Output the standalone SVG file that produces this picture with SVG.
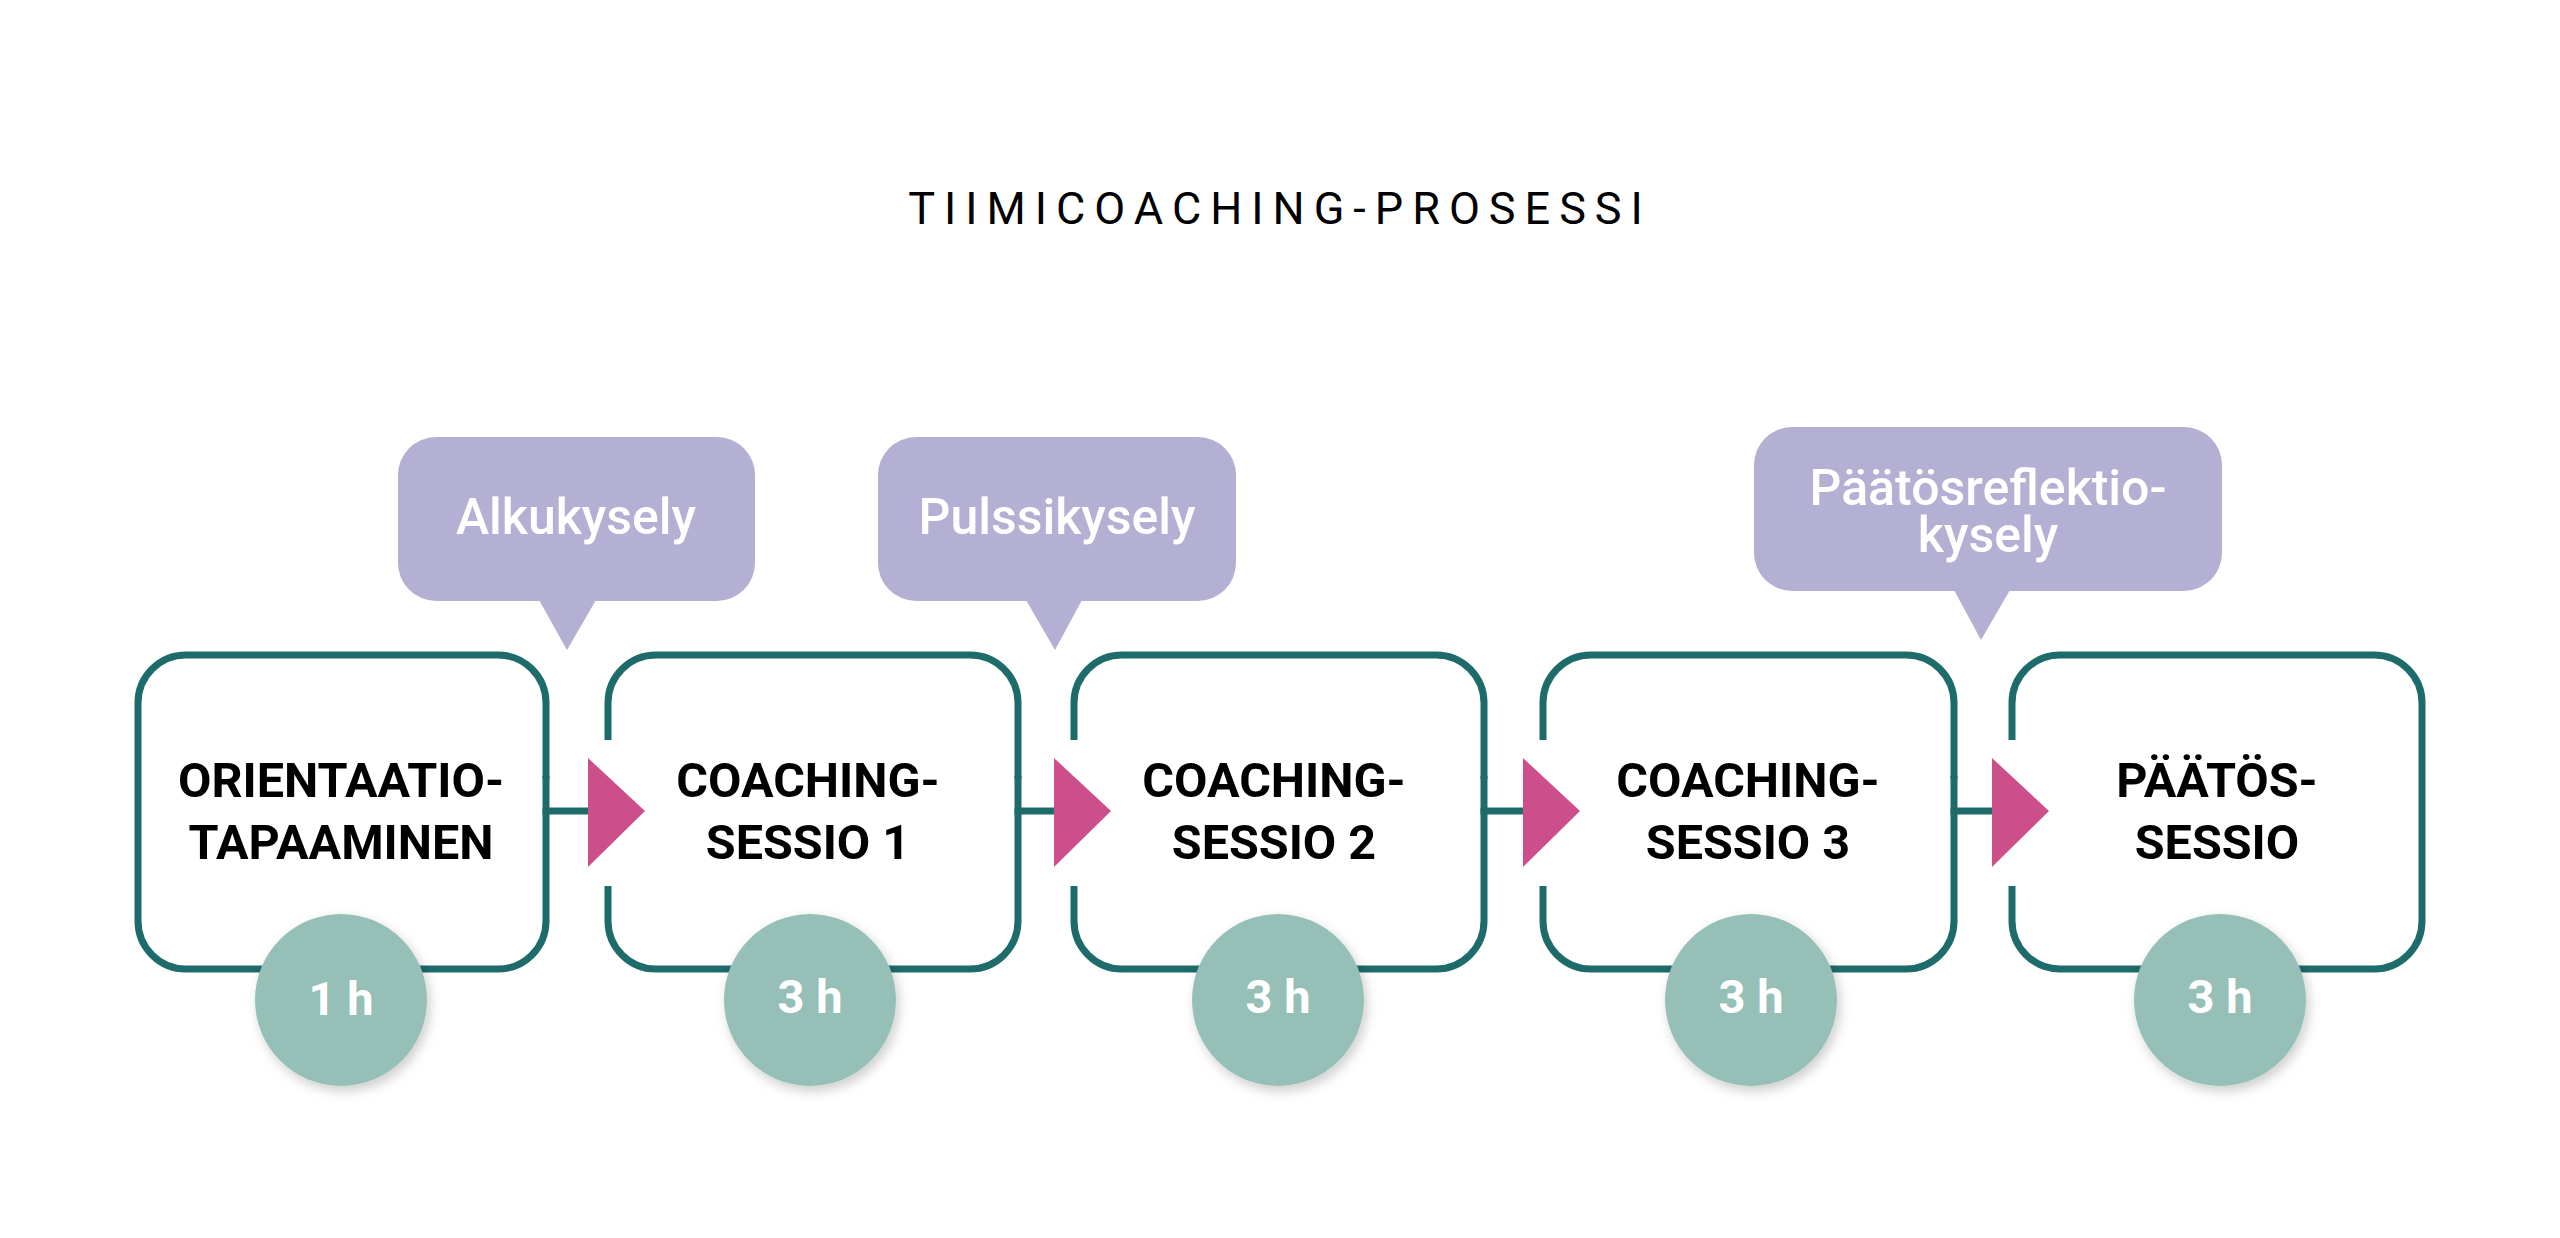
<svg xmlns="http://www.w3.org/2000/svg" width="2560" height="1238" viewBox="0 0 2560 1238">
<defs>
<style>
.box{fill:#fff;stroke:#1e6b6b;stroke-width:7}
.gap{fill:#fff}
.conn{fill:none;stroke:#1e6b6b;stroke-width:7}
.tri{fill:#cc4f8c}
.bt{font-family:Roboto,"Liberation Sans",sans-serif;font-weight:700;font-size:48.5px;fill:#000;text-anchor:middle}
.ct{font-family:Roboto,"Liberation Sans",sans-serif;font-weight:700;font-size:47px;fill:#fff;text-anchor:middle}
.cir{fill:#96c0b7;filter:url(#sh)}
.bub{fill:#b3b0d3}
.lt{font-family:Roboto,"Liberation Sans",sans-serif;font-weight:500;font-size:50px;fill:#fff;text-anchor:middle}
</style>
<filter id="sh" x="-30%" y="-30%" width="160%" height="160%"><feDropShadow dx="3" dy="5" stdDeviation="6" flood-color="#000" flood-opacity="0.2"/></filter>
</defs>
<rect width="2560" height="1238" fill="#fff"/>
<text x="1280" y="224" font-family="Roboto,'Liberation Sans',sans-serif" font-size="45" letter-spacing="9" text-anchor="middle" fill="#000">TIIMICOACHING-PROSESSI</text>

<g id="bubble1"><rect class="bub" x="398" y="437" width="357" height="164" rx="38"/><polygon class="bub" points="539,600 596,600 567,650"/><text class="lt" x="576" y="534">Alkukysely</text></g>
<g id="bubble2"><rect class="bub" x="878" y="437" width="358" height="164" rx="38"/><polygon class="bub" points="1026,600 1082,600 1055,650"/><text class="lt" x="1057" y="534">Pulssikysely</text></g>
<g id="bubble3"><rect class="bub" x="1754" y="427" width="468" height="164" rx="38"/><polygon class="bub" points="1954,590 2010,590 1981,640"/><text class="lt" x="1988" y="505">Päätösreflektio-</text><text class="lt" x="1988" y="552">kysely</text></g>

<g id="n1"><rect class="box" x="138" y="655" width="408" height="314" rx="48"/></g>
<g id="n2"><rect class="box" x="608" y="655" width="410" height="314" rx="48"/></g>
<g id="n3"><rect class="box" x="1074" y="655" width="410" height="314" rx="48"/></g>
<g id="n4"><rect class="box" x="1543" y="655" width="411" height="314" rx="48"/></g>
<g id="n5"><rect class="box" x="2012" y="655" width="410" height="314" rx="48"/></g>

<g id="gaps">
<rect class="gap" x="540" y="779" width="12" height="29"/>
<rect class="gap" x="1012" y="779" width="12" height="29"/>
<rect class="gap" x="1478" y="779" width="12" height="29"/>
<rect class="gap" x="1948" y="779" width="12" height="29"/>
<rect class="gap" x="602" y="740" width="12" height="146"/>
<rect class="gap" x="1068" y="740" width="12" height="146"/>
<rect class="gap" x="1537" y="740" width="12" height="146"/>
<rect class="gap" x="2006" y="740" width="12" height="146"/>
</g>

<g id="connectors">
<path class="conn" d="M546 776V811H590"/>
<polygon class="tri" points="588,758 645,811 588,867"/>
<path class="conn" d="M1018 776V811H1056"/>
<polygon class="tri" points="1054,758 1111,811 1054,867"/>
<path class="conn" d="M1484 776V811H1525"/>
<polygon class="tri" points="1523,758 1580,811 1523,867"/>
<path class="conn" d="M1954 776V811H1994"/>
<polygon class="tri" points="1992,758 2049,811 1992,867"/>
</g>

<g id="t1"><text class="bt" x="341" y="797">ORIENTAATIO-</text><text class="bt" x="341" y="859">TAPAAMINEN</text></g>
<g id="t2"><text class="bt" x="808" y="797">COACHING-</text><text class="bt" x="808" y="859">SESSIO 1</text></g>
<g id="t3"><text class="bt" x="1274" y="797">COACHING-</text><text class="bt" x="1274" y="859">SESSIO 2</text></g>
<g id="t4"><text class="bt" x="1748" y="797">COACHING-</text><text class="bt" x="1748" y="859">SESSIO 3</text></g>
<g id="t5"><text class="bt" x="2217" y="797">PÄÄTÖS-</text><text class="bt" x="2217" y="859">SESSIO</text></g>

<g id="c1"><circle class="cir" cx="341" cy="1000" r="86"/><text class="ct" x="341" y="1015">1 h</text></g>
<g id="c2"><circle class="cir" cx="810" cy="1000" r="86"/><text class="ct" x="810" y="1013">3 h</text></g>
<g id="c3"><circle class="cir" cx="1278" cy="1000" r="86"/><text class="ct" x="1278" y="1013">3 h</text></g>
<g id="c4"><circle class="cir" cx="1751" cy="1000" r="86"/><text class="ct" x="1751" y="1013">3 h</text></g>
<g id="c5"><circle class="cir" cx="2220" cy="1000" r="86"/><text class="ct" x="2220" y="1013">3 h</text></g>
</svg>
